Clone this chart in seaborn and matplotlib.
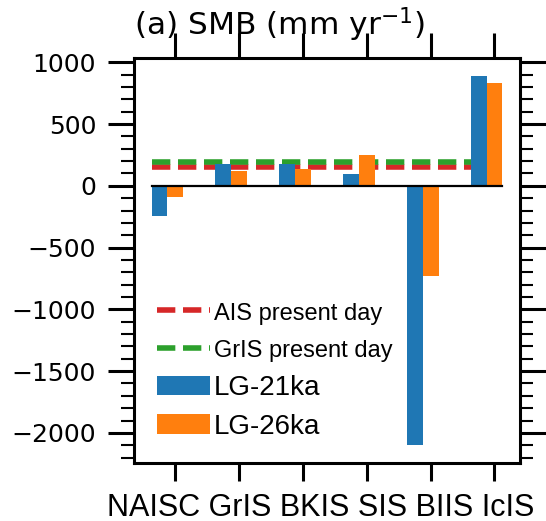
import numpy as np
import pandas as pd
import matplotlib
matplotlib.use("Agg")
import matplotlib.pyplot as plt
from matplotlib.lines import Line2D
from matplotlib.patches import Patch
from matplotlib.ticker import MultipleLocator
from matplotlib import font_manager
import seaborn as sns

# ---- data ----
categories = ["NAISC", "GrIS", "BKIS", "SIS", "BIIS", "IcIS"]
lg21ka = [-248, 178, 173, 97, -2095, 886]
lg26ka = [-94, 118, 140, 251, -730, 832]
ais_present = 155
gris_present = 190
series_names = ["LG-21ka", "LG-26ka"]
title_text = "(a) SMB (mm yr$^{-1}$)"
legend_labels = ["AIS present day", "GrIS present day", "LG-21ka", "LG-26ka"]

df = pd.DataFrame({
    "ice sheet": categories * 2,
    "SMB": lg21ka + lg26ka,
    "run": [series_names[0]] * len(categories) + [series_names[1]] * len(categories),
})

colors = {"LG-21ka": "#1f77b4", "LG-26ka": "#ff7f0e"}
red = "#d62728"
green = "#2ca02c"

fig = plt.figure(figsize=(5.46, 5.21), dpi=100)
ax = fig.add_axes([0.2454, 0.1113, 0.707, 0.7774])

n = len(categories)
x0, x1 = -0.25, n - 1 + 0.25
dash = (0, (3.3, 1.38))
ax.plot([x0, x1], [ais_present, ais_present], color=red, lw=4, ls=dash, zorder=1)
ax.plot([x0, x1], [gris_present, gris_present], color=green, lw=4, ls=dash, zorder=1)

sns.barplot(data=df, x="ice sheet", y="SMB", hue="run", order=categories,
            hue_order=series_names, palette=colors, saturation=1, width=0.5,
            errorbar=None, legend=False, linewidth=0, ax=ax, zorder=2)

ax.plot([x0, x1], [0, 0], color="black", lw=1.6, zorder=3)

ax.set_ylabel("")
span = x1 - x0
ax.set_xlim(x0 - 0.05 * span, x1 + 0.05 * span)
ymin, ymax = min(lg21ka + lg26ka), max(lg21ka + lg26ka)
yspan = ymax - ymin
ax.set_ylim(ymin - 0.05 * yspan, ymax + 0.05 * yspan)

# ticks
ax.set_xticks(np.arange(n) + 0.125)
ax.yaxis.set_major_locator(MultipleLocator(500))
ax.yaxis.set_minor_locator(MultipleLocator(100))
ax.tick_params(axis="y", which="major", direction="out", length=18.7, width=2.2,
               left=True, right=True, pad=8.5, labelsize=18)
ax.tick_params(axis="y", which="minor", direction="out", length=9.5, width=1.5,
               left=True, right=True)
ax.tick_params(axis="x", which="major", direction="out", length=18, width=2.2,
               bottom=True, top=True, labelbottom=False)
for t in ax.xaxis.get_major_ticks():
    t.tick1line.set_markersize(13)
    t.tick2line.set_markersize(18)
for s in ax.spines.values():
    s.set_linewidth(2.2)

# the category names sit as one line of text under the axis
ax.set_xlabel(" ".join(categories), fontsize=22, fontfamily="Liberation Sans",
              labelpad=3.5)
ax.xaxis.label.set_x(0.483)

ax.set_title(title_text, loc="left", fontsize=22.5, pad=16.5, y=1.0,
             fontfamily="DejaVu Sans")

handles = [
    Line2D([0], [0], color=red, lw=4, ls=dash),
    Line2D([0], [0], color=green, lw=4, ls=dash),
    Patch(facecolor=colors["LG-21ka"], edgecolor="none"),
    Patch(facecolor=colors["LG-26ka"], edgecolor="none"),
]
leg = ax.legend(handles, legend_labels, loc="lower left", bbox_to_anchor=(0.06, 0.057),
                frameon=False, borderpad=0, borderaxespad=0, handlelength=1.9,
                handletextpad=0.15, labelspacing=0.46,
                prop={"family": "Liberation Sans", "size": 20})
names = {f.name for f in font_manager.fontManager.ttflist}
texts = leg.get_texts()
for t in texts[:2]:
    if "Liberation Sans Narrow" in names:
        t.set_fontfamily("Liberation Sans Narrow")
    else:
        t.set_fontsize(17)

fig.savefig("out.png", dpi=100)
